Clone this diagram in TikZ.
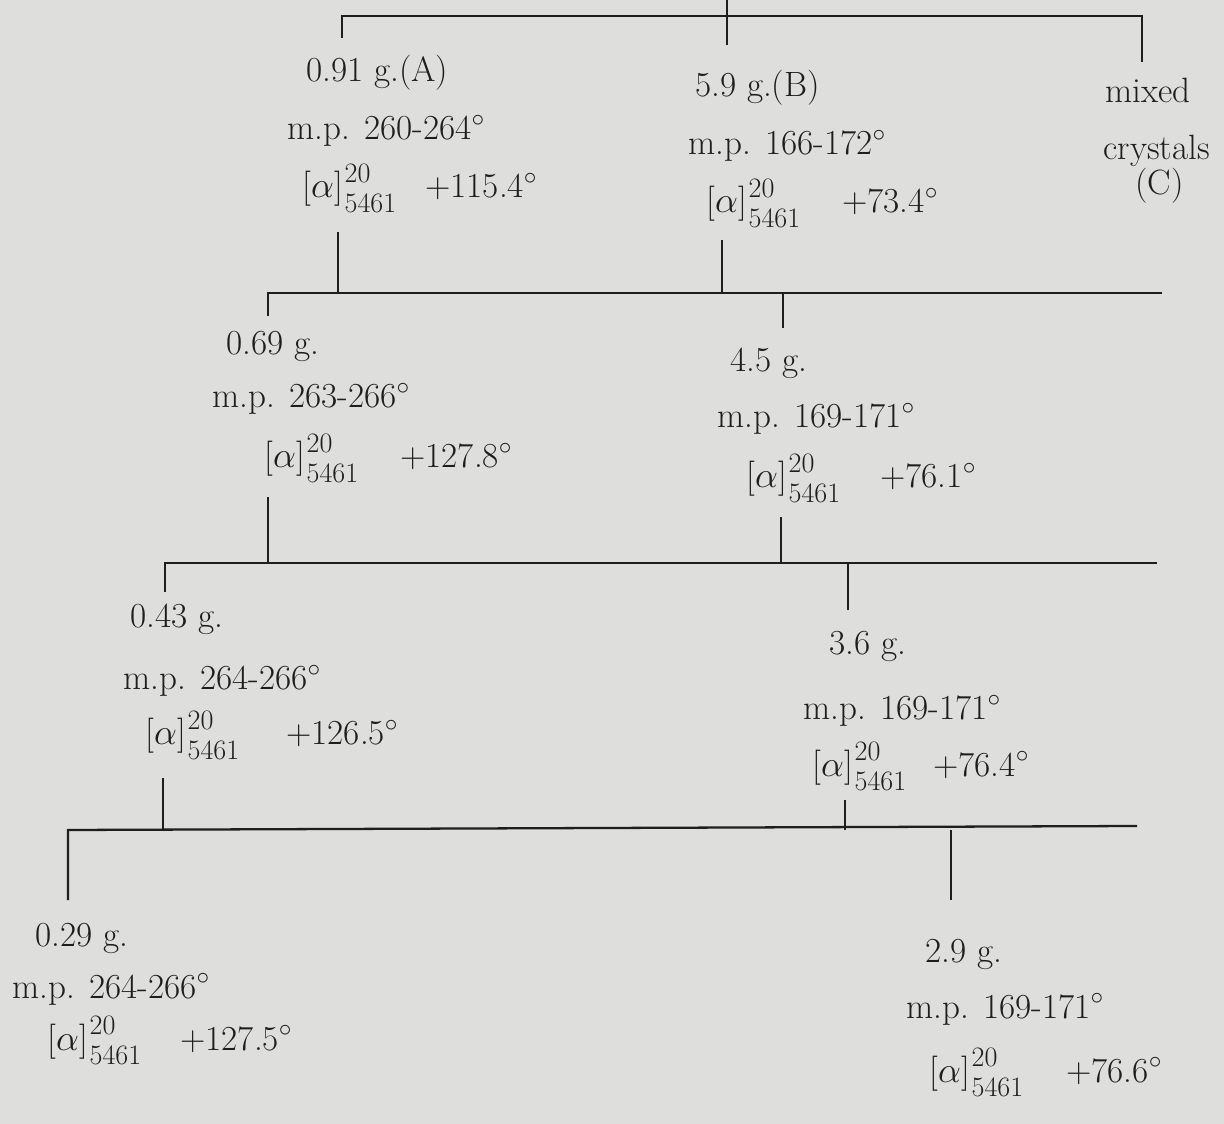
\documentclass[tikz,border=0pt]{standalone}
\begin{document}
\begin{tikzpicture}[x=0.02cm,y=-0.02cm,
  ln/.style={line width=1.3pt,draw=ink},
  lbl/.style={anchor=base west,inner sep=0pt,text=ink,font=\fontsize{20}{24}\selectfont}]
\definecolor{bgc}{RGB}{222,222,220}
\definecolor{ink}{RGB}{30,30,30}
\fill[bgc] (0,0) rectangle (1224,1124);
\useasboundingbox (0,0) rectangle (1224,1124);
\newcommand{\scrf}{\fontsize{16}{16}\selectfont}
\newcommand{\rot}[1]{\makebox[#1][l]{[$\alpha$]\kern1pt\rlap{\raisebox{9pt}{\scrf 20}}\raisebox{-8pt}{\scrf 5461}}}
% ---- level 1 texts
\node[lbl] (a1) at (306,82) {0.91 g.(A)};
\node[lbl] (a2) at (287,140) {m.p. 260-264$^\circ$};
\node[lbl] (a3) at (302,198) {\rot{2.46cm}+115.4$^\circ$};
\node[lbl] (b1) at (695,97) {5.9 g.(B)};
\node[lbl] (b2) at (688,155) {m.p. 166-172$^\circ$};
\node[lbl] (b3) at (706,213) {\rot{2.72cm}+73.4$^\circ$};
\node[lbl] (c1) at (1105,103) {mixed};
\node[lbl] (c2) at (1103,160) {crystals};
\node[lbl] (c3) at (1135,195) {(C)};
% ---- level 2 texts
\node[lbl] (d1) at (226,355) {0.69 g.};
\node[lbl] (d2) at (212,408) {m.p. 263-266$^\circ$};
\node[lbl] (d3) at (264,468) {\rot{2.72cm}+127.8$^\circ$};
\node[lbl] (e1) at (730,372) {4.5 g.};
\node[lbl] (e2) at (717,428) {m.p. 169-171$^\circ$};
\node[lbl] (e3) at (746,488) {\rot{2.68cm}+76.1$^\circ$};
% ---- level 3 texts
\node[lbl] (f1) at (130,628) {0.43 g.};
\node[lbl] (f2) at (123,690) {m.p. 264-266$^\circ$};
\node[lbl] (f3) at (145,745) {\rot{2.82cm}+126.5$^\circ$};
\node[lbl] (g1) at (829,655) {3.6 g.};
\node[lbl] (g2) at (803,720) {m.p. 169-171$^\circ$};
\node[lbl] (g3) at (812,776) {\rot{2.42cm}+76.4$^\circ$};
% ---- level 4 texts
\node[lbl] (h1) at (35,946) {0.29 g.};
\node[lbl] (h2) at (12,998) {m.p. 264-266$^\circ$};
\node[lbl] (h3) at (47,1050) {\rot{2.66cm}+127.5$^\circ$};
\node[lbl] (i1) at (925,962) {2.9 g.};
\node[lbl] (i2) at (906,1018) {m.p. 169-171$^\circ$};
\node[lbl] (i3) at (929,1082) {\rot{2.74cm}+76.6$^\circ$};
% ---- coordinates of the tree
\coordinate (s0) at (727,0);
\coordinate (j0) at (727,45);
\coordinate (L1l) at (342,16);
\coordinate (L1r) at (1142,16);
\coordinate (A-in) at (342,38);
\coordinate (C-in) at (1142,62);
\coordinate (A-out) at (338,232);
\coordinate (B-out) at (722,240);
\coordinate (L2l) at (268,293);
\coordinate (L2r) at (1162,293);
\coordinate (D-in) at (268,316);
\coordinate (E-in) at (783,328);
\coordinate (D-out) at (268,497);
\coordinate (E-out) at (781,517);
\coordinate (L3l) at (165,563);
\coordinate (L3r) at (1157,563);
\coordinate (F-in) at (165,592);
\coordinate (G-in) at (848,610);
\coordinate (F-out) at (163,778);
\coordinate (G-out) at (845,800);
\coordinate (L4l) at (68,830);
\coordinate (L4r) at (1137,826);
\coordinate (H-in) at (68,900);
\coordinate (I-in) at (951,900);
% ---- connectors
\draw[ln] (s0) -- (j0);
\draw[ln] (A-in) -- (L1l) -- (L1r) -- (C-in);
\draw[ln] (A-out) -- (A-out |- L2l);
\draw[ln] (B-out) -- (B-out |- L2l);
\draw[ln] (D-in) -- (L2l) -- (L2r);
\draw[ln] (E-in) -- (E-in |- L2l);
\draw[ln] (D-out) -- (D-out |- L3l);
\draw[ln] (E-out) -- (E-out |- L3l);
\draw[ln] (F-in) -- (L3l) -- (L3r);
\draw[ln] (G-in) -- (G-in |- L3l);
\draw[ln] (F-out) -- (F-out |- L4l);
\draw[ln] (G-out) -- (G-out |- L4l);
\draw[ln] (H-in) -- (L4l) -- (L4r);
\draw[ln] (I-in) -- (I-in |- L4l);
\end{tikzpicture}
\end{document}
